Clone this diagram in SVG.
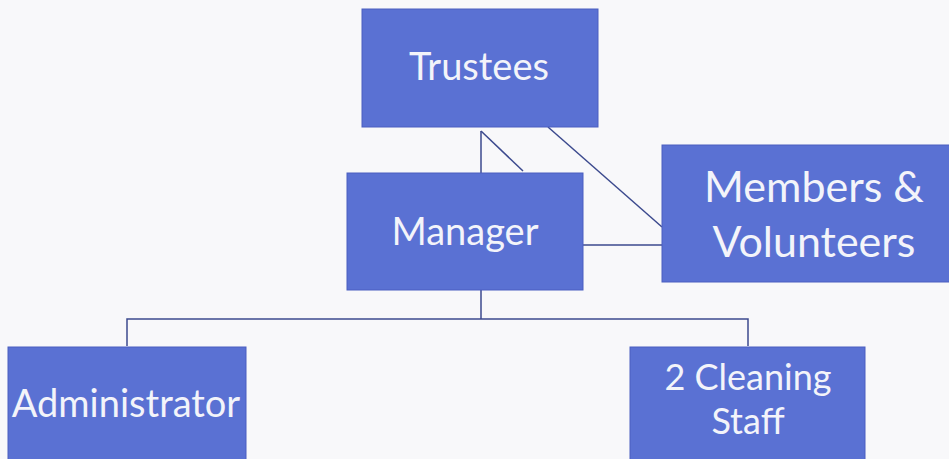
<svg xmlns="http://www.w3.org/2000/svg" width="949" height="459" viewBox="0 0 949 459">
<style>
.box{fill:#5a71d3;stroke:#4a5fc0;stroke-width:1}
.lbl{font-family:Lato,"Liberation Sans",sans-serif;font-size:38px;fill:#f3f4fa;text-anchor:middle}
.big{font-size:43px}
.sm{font-size:36px}
.ln{stroke:#3c4a8e;stroke-width:1.5;fill:none}
</style>
<rect width="949" height="459" fill="#f8f8fa"/>
<g id="connectors">
<line class="ln" x1="481" y1="131" x2="481" y2="173"/>
<line class="ln" x1="481" y1="131" x2="523" y2="171"/>
<line class="ln" x1="548" y1="127" x2="662" y2="227"/>
<line class="ln" x1="583" y1="245" x2="662" y2="245"/>
<polyline class="ln" points="481,290 481,319"/>
<polyline class="ln" points="127,346 127,319 748,319 748,346"/>
</g>
<g id="trustees">
<rect class="box" x="362" y="9" width="236" height="118"/>
<text class="lbl" x="479" y="80">Trustees</text>
</g>
<g id="manager">
<rect class="box" x="347" y="173" width="236" height="117"/>
<text class="lbl" x="465" y="245">Manager</text>
</g>
<g id="members">
<rect class="box" x="662" y="145" width="290" height="137"/>
<text class="lbl big" x="814" y="202">Members &amp;</text>
<text class="lbl big" x="814" y="257">Volunteers</text>
</g>
<g id="administrator">
<rect class="box" x="8" y="347" width="238" height="120"/>
<text class="lbl" x="126" y="417">Administrator</text>
</g>
<g id="cleaning">
<rect class="box" x="630" y="347" width="235" height="120"/>
<text class="lbl sm" x="748" y="390">2 Cleaning</text>
<text class="lbl sm" x="748" y="434">Staff</text>
</g>
</svg>
